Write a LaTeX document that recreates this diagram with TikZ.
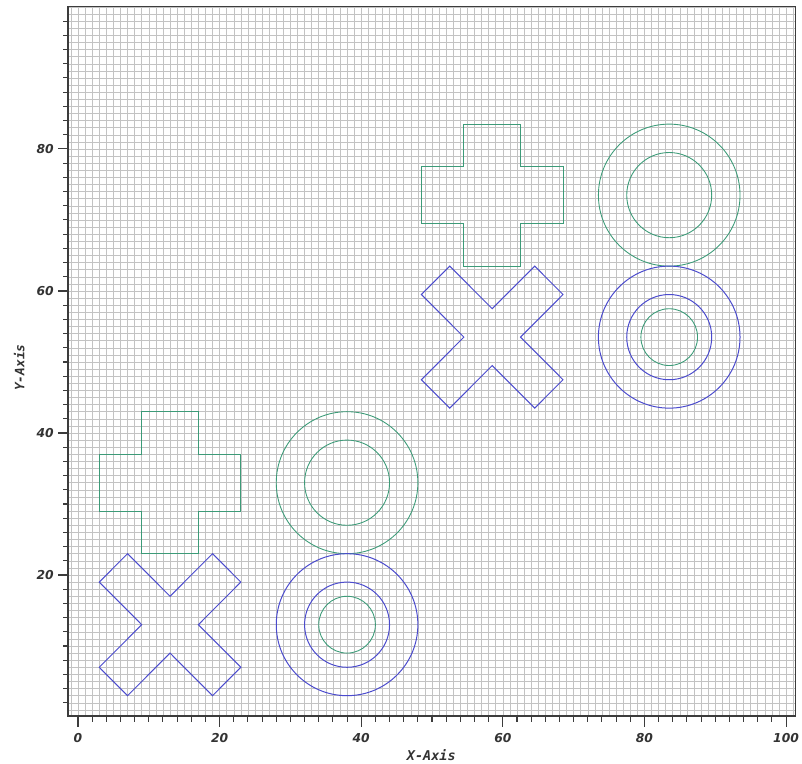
\documentclass[tikz,border=0pt]{standalone}
\usepackage{fontspec}
\newfontfamily\tickfont{DejaVu Sans}
\newfontfamily\labfont{DejaVu Sans Mono}
\definecolor{shgreen}{RGB}{60,155,120}
\definecolor{shblue}{RGB}{75,75,205}
\definecolor{gridgray}{RGB}{195,195,195}
\definecolor{axisgray}{RGB}{60,60,60}
\tikzset{
  gridline/.style={gridgray, line width=0.45pt},
  frameline/.style={axisgray, line width=1.1pt},
  tickline/.style={axisgray, line width=0.9pt},
  ticklabel/.style={font=\tickfont\bfseries\itshape\fontsize{10.5}{11}\selectfont, text=black!80, inner sep=0pt},
  axislabel/.style={font=\labfont\bfseries\itshape\fontsize{11.5}{12}\selectfont, text=black!80, inner sep=0pt},
  greenline/.style={shgreen, line width=0.75pt},
  blueline/.style={shblue, line width=0.85pt},
  plusshape/.pic={\draw[pic actions] (-4,10) -- (4,10) -- (4,4) -- (10,4) -- (10,-4) -- (4,-4) -- (4,-10) -- (-4,-10) -- (-4,-4) -- (-10,-4) -- (-10,4) -- (-4,4) -- cycle;},
  crossshape/.pic={\draw[pic actions] (-10,6) -- (-6,10) -- (0,4) -- (6,10) -- (10,6) -- (4,0) -- (10,-6) -- (6,-10) -- (0,-4) -- (-6,-10) -- (-10,-6) -- (-4,0) -- cycle;}
}
\begin{document}
\begin{tikzpicture}[x=0.03cm,y=0.03cm]
\useasboundingbox (0,0) rectangle (802,764);
\begin{scope}[shift={(2.34cm,1.41cm)},x=0.2124cm,y=0.213cm]
  % grid
  \draw[gridline] (-1.4,0.15) grid[step=1] (101.3,100.1);
  % frame
  \draw[frameline] (-1.4,0.15) rectangle (101.3,100.1);
  % x ticks
  \foreach \i in {2,4,...,18,22,24,...,38,42,44,...,58,62,64,...,78,82,84,...,98}{
    \draw[tickline] (\i,0.15) -- (\i,-0.7);
  }
  \foreach \i in {0,20,40,60,80,100}{
    \draw[tickline] (\i,0.15) -- (\i,-1.4);
    \node[ticklabel] (xl\i) at (\i,-2.95) {\i};
  }
  % y ticks
  \foreach \i in {2,4,...,18,22,24,...,38,42,44,...,58,62,64,...,78,82,84,...,98}{
    \draw[tickline] (-1.4,\i) -- (-2.15,\i);
  }
  \foreach \i in {20,40,60,80}{
    \draw[tickline] (-1.4,\i) -- (-2.85,\i);
    \node[ticklabel, anchor=east] (yl\i) at (-3.4,\i) {\i};
  }
  \node[axislabel] (xaxis) at (49.9,-5.3) {X-Axis};
  \node[axislabel, rotate=90, font=\labfont\bfseries\itshape\fontsize{11}{12}\selectfont] (yaxis) at (-8.3,49.2) {Y-Axis};
  % lower-left group
  \pic[greenline] at (13,33) {plusshape};
  \pic[blueline] at (13,13) {crossshape};
  \draw[greenline] (38,33) circle[radius=10];
  \draw[greenline] (38,33) circle[radius=6];
  \draw[blueline] (38,13) circle[radius=10];
  \draw[blueline] (38,13) circle[radius=6];
  \draw[greenline] (38,13) circle[radius=4];
  % upper-right group
  \pic[greenline] at (58.5,73.5) {plusshape};
  \pic[blueline] at (58.5,53.5) {crossshape};
  \draw[greenline] (83.5,73.5) circle[radius=10];
  \draw[greenline] (83.5,73.5) circle[radius=6];
  \draw[blueline] (83.5,53.5) circle[radius=10];
  \draw[blueline] (83.5,53.5) circle[radius=6];
  \draw[greenline] (83.5,53.5) circle[radius=4];
\end{scope}
\end{tikzpicture}
\end{document}
